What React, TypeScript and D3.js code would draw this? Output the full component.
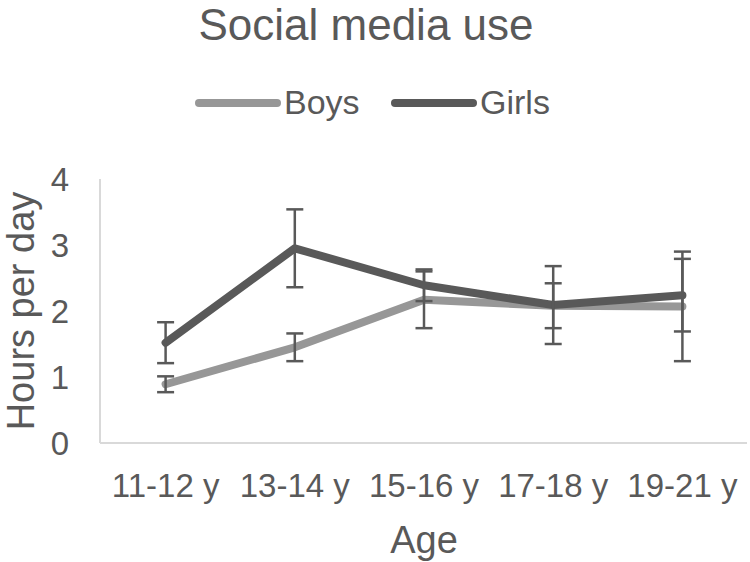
import React from "react";
import * as d3 from "d3";

const ages = ["11-12 y", "13-14 y", "15-16 y", "17-18 y", "19-21 y"];
const boys = [0.89, 1.45, 2.17, 2.08, 2.07];
const boysErr = [0.12, 0.21, 0.43, 0.34, 0.83];
const girls = [1.52, 2.95, 2.39, 2.09, 2.24];
const girlsErr = [0.31, 0.59, 0.24, 0.59, 0.55];
const yTicks = [0, 1, 2, 3, 4];

const W = 750;
const H = 562;
const font = "'Liberation Sans', Arial, sans-serif";
const textColor = "#595959";

export default function App() {
    const x = d3.scalePoint<string>().domain(ages).range([101, 747]).padding(0.5);
    const y = d3.scaleLinear().domain([0, 4]).range([443, 179]);

    const line = d3
        .line<number>()
        .x((d, i) => x(ages[i]) as number)
        .y(d => y(d));

    const series = [
        { name: "Boys", values: boys, err: boysErr, color: "#979797" },
        { name: "Girls", values: girls, err: girlsErr, color: "#595959" },
    ];

    return (
        <svg width={W} height={H} style={{ position: "absolute", left: 0, top: 0, background: "#fff" }} fontFamily={font}>
            <text x={366} y={40} textAnchor="middle" fontSize={44} fill={textColor}>
                Social media use
            </text>

            {/* legend */}
            {series.map((s, i) => {
                const lx = 199 + i * 196;
                return (
                    <g key={s.name}>
                        <line x1={lx} x2={lx + 78} y1={103} y2={103} stroke={s.color} strokeWidth={8} strokeLinecap="round" />
                        <text x={lx + 85} y={114} fontSize={34} fill={textColor}>
                            {s.name}
                        </text>
                    </g>
                );
            })}

            {/* axes */}
            <line x1={100} x2={100} y1={y(4)} y2={y(0)} stroke="#d9d9d9" strokeWidth={2} />
            <line x1={100} x2={747} y1={y(0)} y2={y(0)} stroke="#d9d9d9" strokeWidth={2} />
            {yTicks.map(t => (
                <text key={t} x={69} y={y(t) + 12} textAnchor="end" fontSize={33} fill={textColor}>
                    {t}
                </text>
            ))}
            {ages.map(a => (
                <text key={a} x={x(a)} y={497} textAnchor="middle" fontSize={33} fill={textColor}>
                    {a}
                </text>
            ))}
            <text x={424} y={553} textAnchor="middle" fontSize={38} fill={textColor}>
                Age
            </text>
            <text transform={`translate(34, ${(y(0) + y(4)) / 2}) rotate(-90)`} textAnchor="middle" fontSize={38} fill={textColor}>
                Hours per day
            </text>

            {/* lines */}
            {series.map(s => (
                <path key={s.name} d={line(s.values) ?? ""} fill="none" stroke={s.color} strokeWidth={8} strokeLinejoin="round" strokeLinecap="round" />
            ))}

            {/* error bars */}
            {series.map(s =>
                s.values.map((v, i) => {
                    const cx = x(ages[i]) as number;
                    const hi = y(v + s.err[i]);
                    const lo = y(v - s.err[i]);
                    return (
                        <g key={s.name + i} stroke="#595959" strokeWidth={2.5}>
                            <line x1={cx} x2={cx} y1={hi} y2={lo} />
                            <line x1={cx - 8.5} x2={cx + 8.5} y1={hi} y2={hi} />
                            <line x1={cx - 8.5} x2={cx + 8.5} y1={lo} y2={lo} />
                        </g>
                    );
                })
            )}
        </svg>
    );
}
